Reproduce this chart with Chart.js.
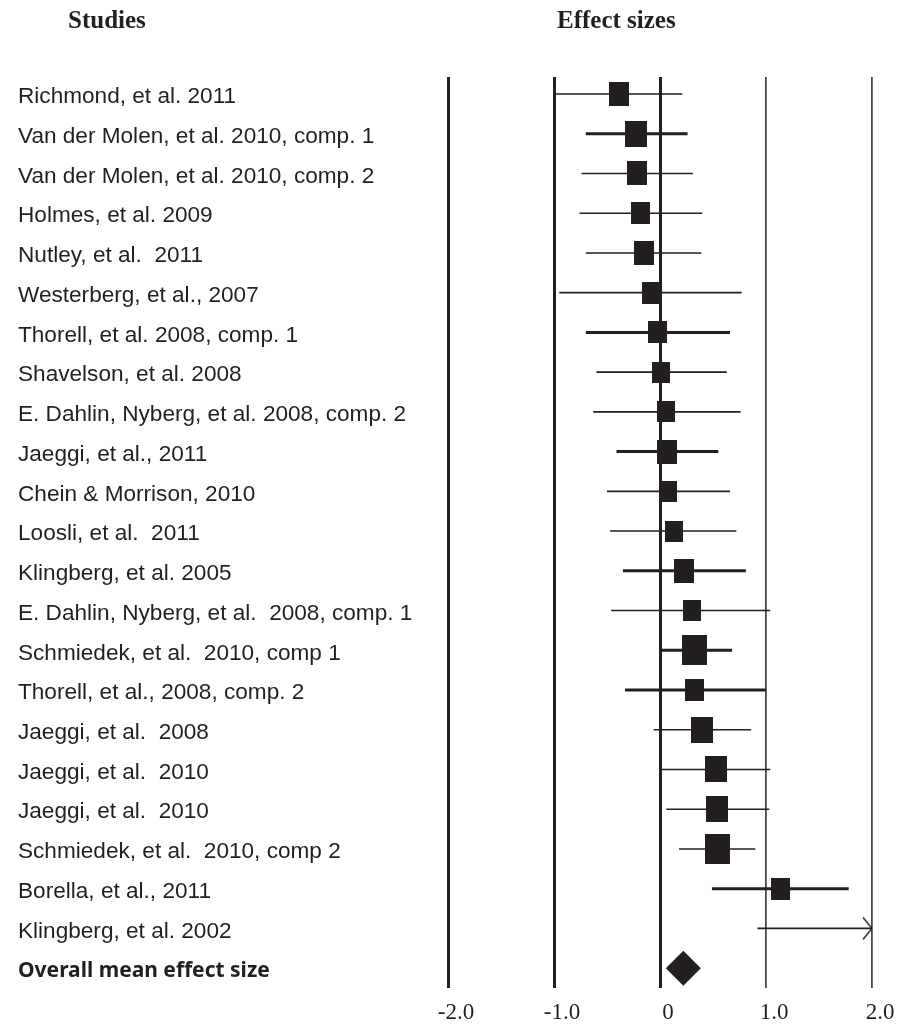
<!DOCTYPE html>
<html>
<head>
<meta charset="utf-8">
<title>Forest plot – working memory training effect sizes</title>
<script src="https://cdn.jsdelivr.net/npm/chart.js@4/dist/chart.umd.min.js"></script>
<style>
  html, body { margin: 0; padding: 0; background: #fff; }
  #wrap { position: relative; width: 903px; height: 1024px; }
</style>
</head>
<body>
<div id="wrap"><canvas id="forest"></canvas></div>
<script>
// Study labels, top to bottom; the last row is the pooled estimate.
const studies = [
  'Richmond, et al. 2011',
  'Van der Molen, et al. 2010, comp. 1',
  'Van der Molen, et al. 2010, comp. 2',
  'Holmes, et al. 2009',
  'Nutley, et al.  2011',
  'Westerberg, et al., 2007',
  'Thorell, et al. 2008, comp. 1',
  'Shavelson, et al. 2008',
  'E. Dahlin, Nyberg, et al. 2008, comp. 2',
  'Jaeggi, et al., 2011',
  'Chein & Morrison, 2010',
  'Loosli, et al.  2011',
  'Klingberg, et al. 2005',
  'E. Dahlin, Nyberg, et al.  2008, comp. 1',
  'Schmiedek, et al.  2010, comp 1',
  'Thorell, et al., 2008, comp. 2',
  'Jaeggi, et al.  2008',
  'Jaeggi, et al.  2010',
  'Jaeggi, et al.  2010',
  'Schmiedek, et al.  2010, comp 2',
  'Borella, et al., 2011',
  'Klingberg, et al. 2002',
  'Overall mean effect size'
];

// Point estimates (null = estimate lies beyond the plotted range)
const effects = [-0.39, -0.23, -0.22, -0.18, -0.15, -0.08, -0.02, 0.01, 0.06, 0.07, 0.08,
                 0.13, 0.23, 0.30, 0.33, 0.33, 0.40, 0.53, 0.54, 0.54, 1.14, null];
// Confidence interval bounds
const lower = [-1.00, -0.70, -0.74, -0.76, -0.70, -0.95, -0.70, -0.60, -0.63, -0.41, -0.50,
               -0.47, -0.35, -0.46, 0.00, -0.33, -0.06, 0.00, 0.06, 0.18, 0.49, 0.92];
const upper = [0.21, 0.26, 0.31, 0.40, 0.39, 0.77, 0.66, 0.63, 0.76, 0.55, 0.66,
               0.72, 0.81, 1.04, 0.68, 1.00, 0.86, 1.04, 1.03, 0.90, 1.78, 2.00];
// Upper bound runs past the axis end (drawn with an arrow)
const truncated = [false, false, false, false, false, false, false, false, false, false, false,
                   false, false, false, false, false, false, false, false, false, false, true];
// Comparisons drawn with a heavier interval line
const emphasized = [false, true, false, false, false, false, true, false, false, true, false,
                    false, true, false, true, true, false, false, false, false, true, false];
// Relative study weights (scale the marker boxes)
const weights = [1.05, 1.16, 1.05, 1.00, 1.05, 1.00, 1.00, 0.95, 0.95, 1.05, 0.95,
                 0.95, 1.05, 0.95, 1.32, 1.00, 1.16, 1.16, 1.16, 1.32, 1.00, 1.00];
// Pooled mean effect size
const overallEffect = 0.22;

// Axis ticks
const xTicks = [-2, -1, 0, 1, 2];
const xTickLabels = ['-2.0', '-1.0', '0', '1.0', '2.0'];

// ---------------------------------------------------------------------------
const INK = '#231f20';
const rowOf = i => i + 1;                       // rows are numbered 1..n
const overallRow = studies.length;

function intervalData(flagWanted) {
  const pts = [];
  lower.forEach((lo, i) => {
    if (emphasized[i] !== flagWanted) return;
    pts.push({ x: lo, y: rowOf(i) }, { x: upper[i], y: rowOf(i) }, { x: null, y: null });
  });
  return pts;
}

// Filled box marker, sized from the study weight
function boxMarker(weight) {
  const w = Math.round(19 * weight);
  const h = Math.round(w * 1.18);
  const c = document.createElement('canvas');
  c.width = w; c.height = h;
  const g = c.getContext('2d');
  g.fillStyle = INK;
  g.fillRect(0, 0, w, h);
  return c;
}

// Open arrowhead whose tip sits at the canvas centre
function arrowHead() {
  const c = document.createElement('canvas');
  c.width = 24; c.height = 26;
  const g = c.getContext('2d');
  g.strokeStyle = INK;
  g.lineWidth = 1.4;
  g.beginPath();
  g.moveTo(3, 2);
  g.lineTo(12, 13);
  g.lineTo(3, 24);
  g.stroke();
  return c;
}

const boxes = weights.map(boxMarker);
const arrow = arrowHead();

const squareData = effects
  .map((e, i) => (e === null ? null : { x: e, y: rowOf(i), i }))
  .filter(Boolean);
const arrowData = upper
  .map((u, i) => (truncated[i] ? { x: u, y: rowOf(i) } : null))
  .filter(Boolean);

// Column headings above the labels and the plot
const headings = {
  id: 'headings',
  afterDraw(chart) {
    const { ctx, chartArea } = chart;
    ctx.save();
    ctx.fillStyle = INK;
    ctx.font = 'bold 25px "Liberation Serif", "Times New Roman", serif';
    ctx.textBaseline = 'alphabetic';
    ctx.textAlign = 'left';
    ctx.fillText('Studies', 68, chartArea.top - 49);
    ctx.fillText('Effect sizes', chartArea.left + 109, chartArea.top - 49);
    ctx.restore();
  }
};

new Chart(document.getElementById('forest'), {
  type: 'scatter',
  data: {
    datasets: [
      {
        type: 'line',
        data: intervalData(false),
        borderColor: INK,
        borderWidth: 1.6,
        pointRadius: 0,
        spanGaps: false,
        order: 3
      },
      {
        type: 'line',
        data: intervalData(true),
        borderColor: INK,
        borderWidth: 3,
        pointRadius: 0,
        spanGaps: false,
        order: 3
      },
      {
        data: squareData,
        pointStyle: ctx => boxes[ctx.raw ? ctx.raw.i : 0],
        pointRadius: 10,
        order: 1
      },
      {
        data: arrowData,
        pointStyle: arrow,
        pointRadius: 10,
        order: 2
      },
      {
        data: [{ x: overallEffect, y: overallRow }],
        pointStyle: 'rectRot',
        pointRadius: 17.5,
        backgroundColor: INK,
        borderWidth: 0,
        order: 1
      }
    ]
  },
  plugins: [headings],
  options: {
    responsive: true,
    maintainAspectRatio: false,
    animation: false,
    events: [],
    layout: { padding: { left: 18, right: 31, top: 77, bottom: 0 } },
    plugins: { legend: { display: false }, tooltip: { enabled: false } },
    scales: {
      x: {
        type: 'linear',
        min: xTicks[0],
        max: xTicks[xTicks.length - 1],
        afterBuildTicks: axis => { axis.ticks = xTicks.map(v => ({ value: v })); },
        afterFit: axis => { axis.height = 36; },
        border: { display: false },
        grid: {
          drawTicks: false,
          color: ctx => (ctx.tick && ctx.tick.value >= 1 ? '#4a4a4a' : INK),
          lineWidth: ctx => (ctx.tick && ctx.tick.value >= 1 ? 1.8 : 3)
        },
        ticks: {
          padding: 11,
          labelOffset: 8,
          color: INK,
          font: { family: '"Liberation Serif", "Times New Roman", serif', size: 23 },
          callback: (v) => xTickLabels[xTicks.indexOf(v)]
        }
      },
      y: {
        type: 'linear',
        reverse: true,
        min: 0.572,
        max: studies.length + 0.5,
        afterBuildTicks: axis => { axis.ticks = studies.map((s, i) => ({ value: rowOf(i) })); },
        afterFit: axis => { axis.width = 430; },
        border: { display: false },
        grid: { display: false, drawTicks: false },
        ticks: {
          crossAlign: 'far',
          padding: 0,
          labelOffset: 3,
          color: INK,
          autoSkip: false,
          font: ctx => (ctx.tick && ctx.tick.value === overallRow
            ? { family: '"Noto Sans", "Open Sans", sans-serif', size: 21, weight: 'bold' }
            : { family: '"Liberation Sans", Arial, sans-serif', size: 22.6 }),
          callback: v => studies[v - 1]
        }
      }
    }
  }
});
</script>
</body>
</html>
